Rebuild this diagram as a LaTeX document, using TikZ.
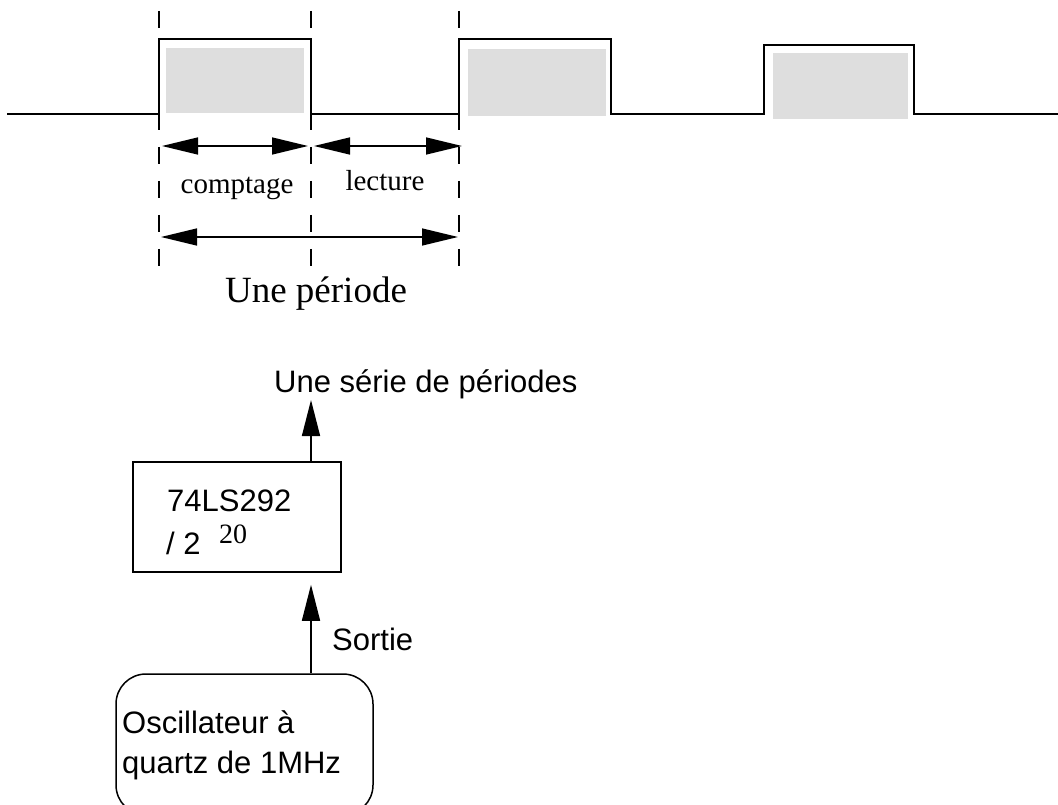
\documentclass[tikz,border=0pt]{standalone}
\usepackage{fontspec}
\setmainfont{Liberation Serif}
\setsansfont{Liberation Sans}
\usetikzlibrary{arrows.meta}
\tikzset{
  wave/.style={line width=2pt, line join=miter},
  greybox/.style={fill=black!13, draw=none},
  guide/.style={line width=1.5pt, dash pattern=on 17pt off 17pt},
  dim/.style={line width=1.5pt, {Triangle[length=36pt,width=17pt]}-{Triangle[length=36pt,width=17pt]}},
  uparr/.style={line width=1.5pt, -{Triangle[length=36pt,width=18pt]}},
  serlbl/.style={font=\fontsize{29}{33}\selectfont, anchor=base},
  sanslbl/.style={font=\sffamily\fontsize{31}{36}\selectfont, anchor=base west, inner sep=0pt},
  blockbox/.style={draw, line width=1.5pt, minimum width=208pt, minimum height=110pt, inner sep=0pt},
  oscbox/.style={draw, line width=1.5pt, rounded corners=30pt, minimum width=257pt, minimum height=141pt, inner sep=0pt}
}
\begin{document}
\begin{tikzpicture}[x=1pt,y=-1pt]
\useasboundingbox (0,0) rectangle (1058,805);
\clip (0,0) rectangle (1058,805);
% grey areas
\fill[black!13] (166,48) rectangle (304,113);
\fill[black!13] (468,49) rectangle (606,116);
\fill[black!13] (773,53) rectangle (908,119);
% guide lines
\coordinate (g1) at (159,0);
\coordinate (g2) at (311,0);
\coordinate (g3) at (459,0);
\foreach \g in {g1,g2,g3}{\draw[guide] (\g) ++(0,11) -- ++(0,256);}
% waveform
\draw[wave] (7,114) -- (159,114) -- (159,39) -- (311,39) -- (311,114) -- (459,114) -- (459,39) -- (611,39) -- (611,114) -- (764,114) -- (764,45) -- (914,45) -- (914,114) -- (1058,114);
% dimension arrows
\coordinate (c1) at (162,146); \coordinate (c2) at (308,146);
\coordinate (l1) at (314,146); \coordinate (l2) at (462,146);
\coordinate (p1) at (161,237); \coordinate (p2) at (458,237);
\draw[dim] (c1) -- (c2);
\draw[dim] (l1) -- (l2);
\draw[dim] (p1) -- (p2);
\node[serlbl] (comptage) at (237,194) {comptage};
\node[serlbl] (lecture) at (385,191) {lecture};
\node[serlbl, font=\fontsize{37}{42}\selectfont] (periode) at (316,302) {Une période};
% block diagram
\coordinate (sx) at (311,0);
\node[blockbox] (div) at (237,517) {};
\node[sanslbl] (t74) at (167,511) {74LS292};
\node[sanslbl] (t2) at (166,554) {/ 2};
\node[anchor=base west, inner sep=0pt, font=\fontsize{28}{32}\selectfont] (t20) at (219,543) {20};
\node[oscbox] (osc) at (244.5,744.5) {};
\node[sanslbl] (o1) at (122,733) {Oscillateur à};
\node[sanslbl] (o2) at (122,773) {quartz de 1MHz};
\node[sanslbl] (serie) at (274,392) {Une série de périodes};
\coordinate (outtip) at (311,400);
\draw[uparr] (div.north -| sx) -- (outtip);
\draw[uparr, shorten >=12pt] (osc.north -| sx) -- (div.south -| sx);
\node[sanslbl] (sortie) at (332,650) {Sortie};
\end{tikzpicture}
\end{document}
